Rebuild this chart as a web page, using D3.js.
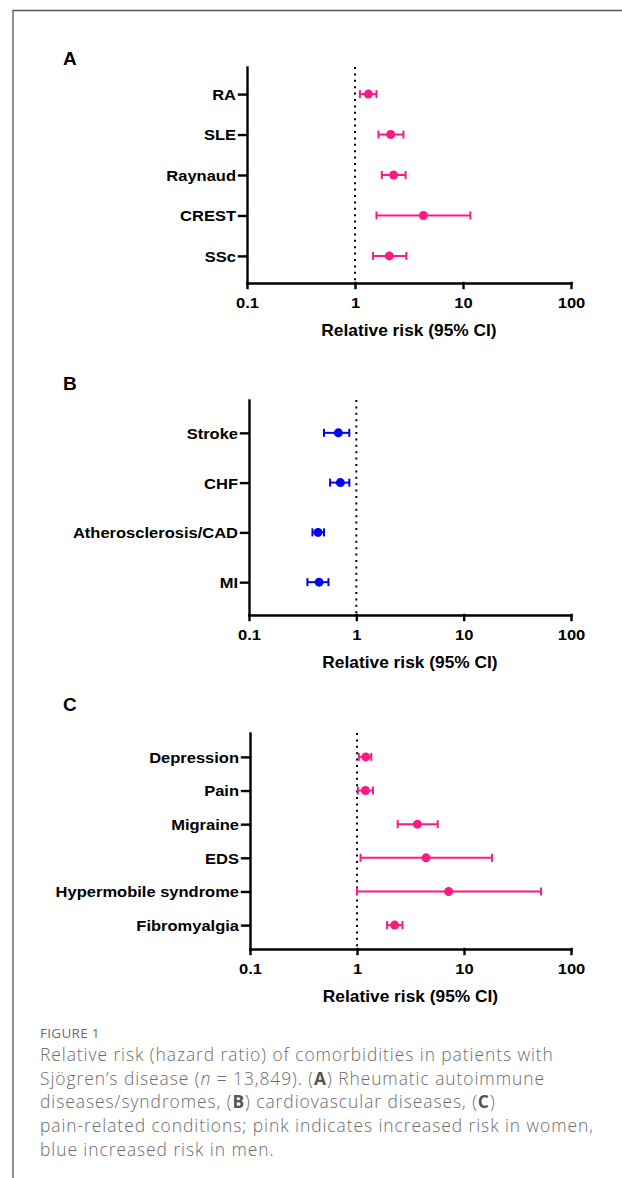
<!DOCTYPE html>
<html>
<head>
<meta charset="utf-8">
<script src="https://cdn.jsdelivr.net/npm/d3@7"></script>
<style>
  body { margin: 0; background: #fff; }
  svg { display: block; }
  .caption { font-family: "Open Sans", sans-serif; fill: #6b6b6b; }
</style>
</head>
<body>
<svg width="622" height="1178"></svg>
<script>
"use strict";

// Panel A: rheumatic autoimmune diseases (pink)
const labelsA = ["RA", "SLE", "Raynaud", "CREST", "SSc"];
const riskA = [1.33, 2.14, 2.28, 4.30, 2.08];
const lowA = [1.11, 1.65, 1.77, 1.58, 1.47];
const highA = [1.58, 2.81, 2.94, 11.7, 2.99];

// Panel B: cardiovascular diseases (blue)
const labelsB = ["Stroke", "CHF", "Atherosclerosis/CAD", "MI"];
const riskB = [0.68, 0.71, 0.44, 0.45];
const lowB = [0.50, 0.57, 0.39, 0.35];
const highB = [0.86, 0.86, 0.50, 0.55];

// Panel C: pain-related conditions (pink)
const labelsC = ["Depression", "Pain", "Migraine", "EDS", "Hypermobile syndrome", "Fibromyalgia"];
const riskC = [1.21, 1.20, 3.67, 4.42, 7.19, 2.25];
const lowC = [1.04, 1.02, 2.40, 1.08, 1.00, 1.91];
const highC = [1.36, 1.41, 5.68, 18.3, 52.5, 2.66];

const tickValues = [0.1, 1, 10, 100];
const tickLabels = ["0.1", "1", "10", "100"];
const axisTitle = "Relative risk (95% CI)";

const PINK = "#fa1a82";
const BLUE = "#0000f5";

const svg = d3.select("svg");

// frame lines round the figure
svg.append("path")
    .attr("d", "M13,1178 V10.5 H622")
    .attr("fill", "none")
    .attr("stroke", "#555")
    .attr("stroke-width", 1.3);

const panels = [
    { letter: "A", labels: labelsA, risk: riskA, low: lowA, high: highA, color: PINK,
      x0: 247, x1: 571, y0: 67, y1: 283, pad: 0.67, letterY: 65 },
    { letter: "B", labels: labelsB, risk: riskB, low: lowB, high: highB, color: BLUE,
      x0: 249, x1: 571, y0: 400, y1: 615, pad: 0.66, letterY: 390 },
    { letter: "C", labels: labelsC, risk: riskC, low: lowC, high: highC, color: PINK,
      x0: 250, x1: 571, y0: 733, y1: 949, pad: 0.71, letterY: 711 }
];

// text in the source figure is a little wider than Arial at the same height
function stretch(sel, k) {
    sel.each(function () {
        const w = this.getComputedTextLength();
        d3.select(this).attr("textLength", w * k).attr("lengthAdjust", "spacingAndGlyphs");
    });
}

panels.forEach(p => drawPanel(p));

function drawPanel(p) {
    const g = svg.append("g");

    const x = d3.scaleLog()
        .domain([0.1, 100])
        .range([p.x0, p.x1]);

    const y = d3.scalePoint()
        .domain(p.labels)
        .range([p.y0, p.y1])
        .padding(p.pad);

    // panel letter
    g.append("text")
        .attr("x", 63)
        .attr("y", p.letterY)
        .attr("font-family", "Liberation Sans, Arial, sans-serif")
        .attr("font-weight", "bold")
        .attr("font-size", 19)
        .text(p.letter);

    // reference line at RR = 1
    g.append("line")
        .attr("x1", x(1)).attr("x2", x(1))
        .attr("y1", p.y0).attr("y2", p.y1)
        .attr("stroke", "#000")
        .attr("stroke-width", 2)
        .attr("stroke-dasharray", "2 4.4");

    const xAxis = g.append("g")
        .attr("transform", `translate(0, ${p.y1})`)
        .call(d3.axisBottom(x)
            .tickValues(tickValues)
            .tickFormat((d, i) => tickLabels[i])
            .tickSize(5)
            .tickSizeOuter(0)
            .tickPadding(9));

    const yAxis = g.append("g")
        .attr("transform", `translate(${p.x0}, 0)`)
        .call(d3.axisLeft(y)
            .tickSize(8)
            .tickSizeOuter(0)
            .tickPadding(3));

    [xAxis, yAxis].forEach(a => {
        a.selectAll("path, line")
            .attr("stroke", "#000")
            .attr("stroke-width", 2.4)
            .attr("stroke-linecap", "square");
        a.selectAll("text")
            .attr("fill", "#000")
            .attr("font-family", "Liberation Sans, Arial, sans-serif")
            .attr("font-weight", "bold")
            .attr("font-size", 15);
        stretch(a.selectAll("text"), 1.1);
    });
    yAxis.selectAll("text").attr("dy", "0.36em");

    const title = g.append("text")
        .attr("x", (p.x0 + p.x1) / 2)
        .attr("y", p.y1 + 53)
        .attr("text-anchor", "middle")
        .attr("font-family", "Liberation Sans, Arial, sans-serif")
        .attr("font-weight", "bold")
        .attr("font-size", 16.5)
        .text(axisTitle);
    stretch(title, 1.05);

    const idx = d3.range(p.labels.length);

    // error bars
    g.selectAll(".ci")
        .data(idx)
        .join("line")
        .attr("x1", i => x(p.low[i]))
        .attr("x2", i => x(p.high[i]))
        .attr("y1", i => y(p.labels[i]))
        .attr("y2", i => y(p.labels[i]))
        .attr("stroke", p.color)
        .attr("stroke-width", 2);

    ["low", "high"].forEach(end => {
        g.selectAll(".cap-" + end)
            .data(idx)
            .join("line")
            .attr("x1", i => x(p[end][i]))
            .attr("x2", i => x(p[end][i]))
            .attr("y1", i => y(p.labels[i]) - 4)
            .attr("y2", i => y(p.labels[i]) + 4)
            .attr("stroke", p.color)
            .attr("stroke-width", 2);
    });

    g.selectAll("circle")
        .data(idx)
        .join("circle")
        .attr("cx", i => x(p.risk[i]))
        .attr("cy", i => y(p.labels[i]))
        .attr("r", 4.5)
        .attr("fill", p.color);
}

// caption
const cap = svg.append("g").attr("class", "caption");

cap.append("text")
    .attr("x", 40)
    .attr("y", 1038)
    .attr("font-size", 13.5)
    .attr("letter-spacing", 0.3)
    .text("FIGURE 1");

const captionLines = [
    [["Relative risk (hazard ratio) of comorbidities in patients with", ""]],
    [["Sjögren’s disease (", ""], ["n", "i"], [" = 13,849). (", ""], ["A", "b"], [") Rheumatic autoimmune", ""]],
    [["diseases/syndromes, (", ""], ["B", "b"], [") cardiovascular diseases, (", ""], ["C", "b"], [")", ""]],
    [["pain-related conditions; pink indicates increased risk in women,", ""]],
    [["blue increased risk in men.", ""]]
];

captionLines.forEach((parts, li) => {
    const t = cap.append("text")
        .attr("x", 40)
        .attr("y", 1061 + li * 23.7)
        .attr("font-size", 17.4)
        .attr("font-weight", 300)
        .attr("letter-spacing", 0.95);
    parts.forEach(([s, style]) => {
        const ts = t.append("tspan").text(s);
        if (style === "b") ts.attr("font-weight", "bold").attr("fill", "#555");
        if (style === "i") ts.attr("font-style", "italic");
    });
});
</script>
</body>
</html>
